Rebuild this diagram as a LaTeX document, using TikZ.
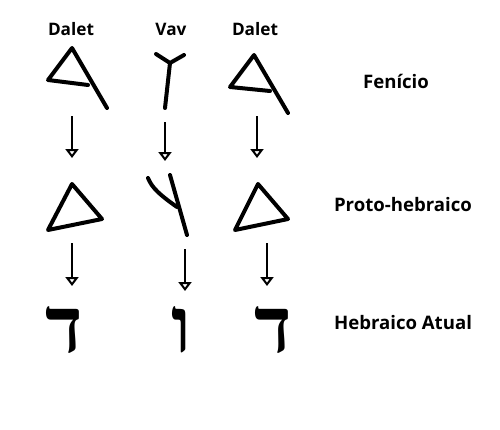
\documentclass[tikz,border=0pt]{standalone}
\usepackage{fontspec}
\setmainfont{Open Sans}
\newfontfamily\hebfont[Script=Hebrew]{Liberation Serif}
\TeXXeTstate=1
\usetikzlibrary{arrows.meta}
\tikzset{
  glyph/.style={line width=4pt, line cap=round, line join=round},
  evo/.style={line width=2pt, -{Triangle[open, width=13pt, length=9pt, line width=2pt]}},
  lbl/.style={font=\bfseries\fontsize{17.2}{19}\selectfont, inner sep=0pt},
  rowlbl/.style={font=\bfseries\fontsize{18.6}{21}\selectfont, inner sep=0pt},
  heb/.style={font=\hebfont\bfseries\fontsize{78}{80}\selectfont, inner sep=0pt, anchor=base}
}
\begin{document}
\begin{tikzpicture}[x=1pt, y=-1pt]
\useasboundingbox (0,0) rectangle (500,429);
\fill[white] (0,0) rectangle (500,429);

% column labels
\node[lbl] (c1) at (71,29) {Dalet};
\node[lbl] (c2) at (171,29) {Vav};
\node[lbl] (c3) at (255,29) {Dalet};

% row labels
\node[rowlbl] (r1) at (396,81) {Fenício};
\node[rowlbl] (r2) at (403,205) {Proto-hebraico};
\node[rowlbl] (r3) at (403,323) {Hebraico Atual};

% Phoenician dalet 1
\draw[glyph] (88,85) -- (48,80) -- (72,48) -- (107,108);
% Phoenician vav
\draw[glyph] (156,54) -- (170,63) -- (184,55);
\draw[glyph] (170,63) -- (165,108);
% Phoenician dalet 2
\draw[glyph] (270,91) -- (230,87) -- (254,55) -- (288,113);

% Proto-Hebrew dalet 1
\draw[glyph] (72,184) -- (48,230) -- (102,219) -- cycle;
% Proto-Hebrew vav
\draw[glyph] (148,178) .. controls (152,188) and (160,195) .. (177,207);
\draw[glyph] (170,175) -- (187,235);
% Proto-Hebrew dalet 2
\draw[glyph] (258,184) -- (235,230) -- (288,219) -- cycle;

% Modern Hebrew
\node[heb] (h1) at (64,352) {\beginR ד\endR};
\node[heb] (h2) at (181,352) {\beginR ו\endR};
\node[heb] (h3) at (273,352) {\beginR ד\endR};

% arrow endpoints
\coordinate (a1s) at (72,116); \coordinate (a1e) at (72,158);
\coordinate (a2s) at (165,122); \coordinate (a2e) at (165,161);
\coordinate (a3s) at (257,116); \coordinate (a3e) at (257,158);
\coordinate (b1s) at (72,243); \coordinate (b1e) at (72,286);
\coordinate (b2s) at (185,249); \coordinate (b2e) at (185,291);
\coordinate (b3s) at (267,243); \coordinate (b3e) at (267,286);

\draw[evo] (a1s) -- (a1e);
\draw[evo] (a2s) -- (a2e);
\draw[evo] (a3s) -- (a3e);
\draw[evo] (b1s) -- (b1e);
\draw[evo] (b2s) -- (b2e);
\draw[evo] (b3s) -- (b3e);
\end{tikzpicture}
\end{document}
